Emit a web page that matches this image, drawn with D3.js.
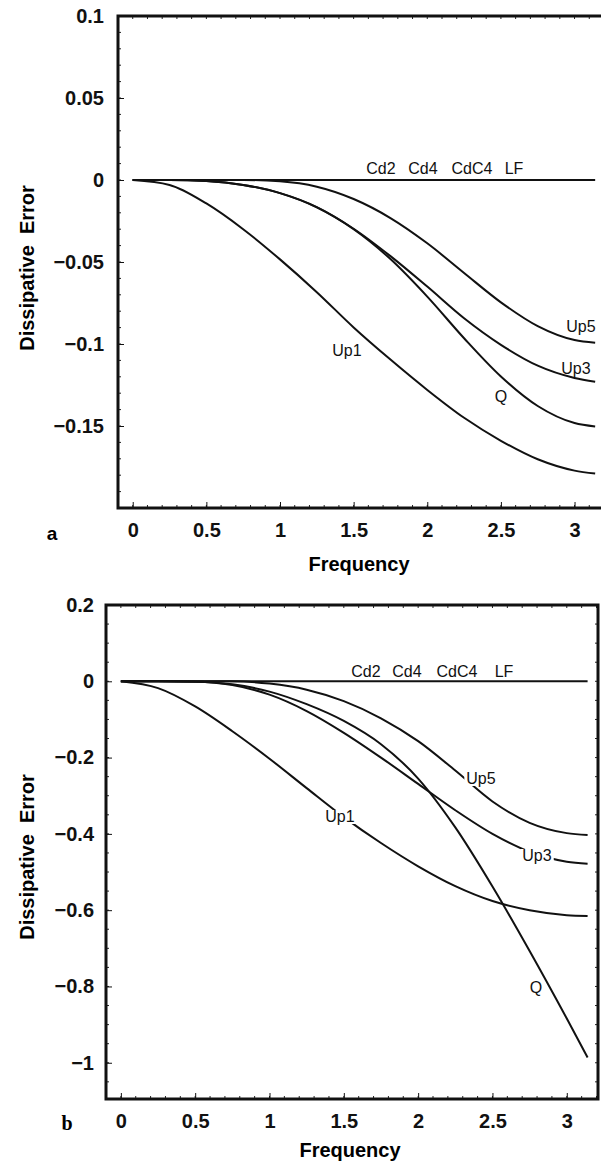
<!DOCTYPE html>
<meta charset="utf-8">
<style>
body { margin: 0; background: #fff; }
svg { font-family: 'Liberation Sans', Arial, sans-serif; }
.tick text { font-weight: bold; font-size: 20px; fill: #111; }
.tick line { stroke: #111; }
.curve { fill: none; stroke: #111; stroke-width: 2; }
.lab { font-size: 16px; fill: #111; }
</style>
<body>
<script src="https://d3js.org/d3.v7.min.js"></script>
<script>

// frequency grid
var freq = [0, 0.25, 0.5, 0.75, 1, 1.25, 1.5, 1.75, 2, 2.25, 2.5, 2.75, 3, 3.14];

// panel a
var aFlat = [0, 0, 0, 0, 0, 0, 0, 0, 0, 0, 0, 0, 0, 0];
var aUp1 = [0, -0.003, -0.0143, -0.030, -0.0484, -0.0684, -0.0899, -0.1095, -0.128, -0.145, -0.159, -0.1703, -0.1772, -0.179];
var aUp3 = [0, 0, -0.0006, -0.003, -0.008, -0.0165, -0.0297, -0.0464, -0.065, -0.0843, -0.1005, -0.1132, -0.1207, -0.123];
var aUp5 = [0, 0, 0, 0, -0.0008, -0.0041, -0.0116, -0.0232, -0.0386, -0.0567, -0.0746, -0.0891, -0.0976, -0.0992];
var aQ   = [0, 0, -0.0006, -0.003, -0.008, -0.0167, -0.030, -0.0482, -0.0711, -0.0965, -0.1198, -0.1378, -0.1482, -0.1503];

// panel b
var bFlat = [0, 0, 0, 0, 0, 0, 0, 0, 0, 0, 0, 0, 0, 0];
var bUp1 = [0, -0.018, -0.066, -0.131, -0.203, -0.280, -0.356, -0.424, -0.485, -0.537, -0.576, -0.600, -0.613, -0.615];
var bUp3 = [0, 0, -0.001, -0.010, -0.035, -0.078, -0.135, -0.200, -0.269, -0.338, -0.400, -0.447, -0.473, -0.478];
var bUp5 = [0, 0, 0, 0, -0.006, -0.022, -0.052, -0.097, -0.157, -0.234, -0.315, -0.371, -0.398, -0.403];
var bQ   = [0, 0, -0.001, -0.008, -0.027, -0.060, -0.104, -0.165, -0.255, -0.383, -0.538, -0.707, -0.884, -0.986];

var xTicks = [0, 0.5, 1, 1.5, 2, 2.5, 3];
var aYTicks = [0.1, 0.05, 0, -0.05, -0.1, -0.15];
var bYTicks = [0.2, 0, -0.2, -0.4, -0.6, -0.8, -1];

function fmt(d) {
  var s = String(Math.abs(+d.toFixed(3)));
  return d < 0 ? "\u2212" + s : s;
}

var svg = d3.select("body").append("svg")
    .attr("width", 601)
    .attr("height", 1172);

function panel(p) {
  var x = d3.scaleLinear().domain(p.xd).range([p.l, p.r]);
  var y = d3.scaleLinear().domain(p.yd).range([p.b, p.t]);
  var g = svg.append("g");

  // minor ticks
  var xm = d3.range(0, 3.21, 0.1);
  var ym = d3.range(p.yd[0], p.yd[1] + 1e-9, p.ymin).map(function(v){ return Math.round(v/p.ymin)*p.ymin; })
      .filter(function(v){ return v >= p.yd[0] - 1e-9 && v <= p.yd[1] + 1e-9; });
  g.selectAll(".mx").data(xm).enter().append("line")
      .attr("x1", d => x(d)).attr("x2", d => x(d))
      .attr("y1", p.b).attr("y2", p.b - 3).attr("stroke", "#222");
  g.selectAll(".mxt").data(xm).enter().append("line")
      .attr("x1", d => x(d)).attr("x2", d => x(d))
      .attr("y1", p.t).attr("y2", p.t + 3).attr("stroke", "#222");
  g.selectAll(".my").data(ym).enter().append("line")
      .attr("x1", p.l).attr("x2", p.l + 3)
      .attr("y1", d => y(d)).attr("y2", d => y(d)).attr("stroke", "#222");
  g.selectAll(".myr").data(ym).enter().append("line")
      .attr("x1", p.r).attr("x2", p.r - 3)
      .attr("y1", d => y(d)).attr("y2", d => y(d)).attr("stroke", "#222");

  // axes
  var xa = g.append("g").attr("transform", "translate(0," + p.b + ")")
      .call(d3.axisBottom(x).tickValues(xTicks).tickFormat(fmt).tickSizeInner(-6).tickSizeOuter(0).tickPadding(15));
  var ya = g.append("g").attr("transform", "translate(" + p.l + ",0)")
      .call(d3.axisLeft(y).tickValues(p.yt).tickFormat(fmt).tickSizeInner(-6).tickSizeOuter(0).tickPadding(p.ypad));
  xa.select(".domain").remove();
  ya.select(".domain").remove();

  // frame
  g.append("rect")
      .attr("x", p.l).attr("y", p.t)
      .attr("width", p.r - p.l).attr("height", p.b - p.t)
      .attr("fill", "none").attr("stroke", "#111").attr("stroke-width", 3);

  var line = d3.line()
      .curve(d3.curveMonotoneX)
      .x((d, i) => x(freq[i]))
      .y(d => y(d));

  p.series.forEach(function(s) {
    g.append("path").datum(s.v)
        .attr("class", "curve")
        .attr("stroke-width", s.w || 2)
        .attr("d", line);
  });

  // curve labels
  p.labels.forEach(function(l) {
    var t = g.append("text").attr("class", "lab")
        .attr("x", l.x).attr("y", l.y)
        .attr("text-anchor", "middle")
        .text(l.t);
    if (l.bg) {
      var bb = t.node().getBBox();
      g.insert("rect", function(){ return t.node(); })
          .attr("x", bb.x - 2).attr("y", bb.y + 2)
          .attr("width", bb.width + 4).attr("height", bb.height - 3)
          .attr("fill", "#fff");
    }
  });

  // axis titles
  g.append("text")
      .attr("transform", "translate(" + p.yl[0] + "," + p.yl[1] + ") rotate(-90)")
      .attr("text-anchor", "middle")
      .style("font-weight", "bold").style("font-size", "20px")
      .attr("xml:space", "preserve")
      .text("Dissipative  Error");
  g.append("text")
      .attr("x", p.xl[0]).attr("y", p.xl[1])
      .attr("text-anchor", "middle")
      .style("font-weight", "bold").style("font-size", "20px")
      .text("Frequency");
  g.append("text")
      .attr("x", p.tag[0]).attr("y", p.tag[1])
      .attr("text-anchor", "middle")
      .style("font-weight", "bold").style("font-size", p.tagSize)
      .style("font-family", p.tagFont)
      .text(p.tagText);
}

panel({
  xd: [-0.1, 3.2], yd: [-0.2, 0.1],
  l: 118, r: 604, t: 16, b: 508,
  yt: aYTicks, ymin: 0.01, ypad: 14,
  series: [{v: aFlat, w: 2}, {v: aUp1}, {v: aUp3}, {v: aUp5}, {v: aQ}],
  labels: [
    {t: "Cd2", x: 381, y: 174}, {t: "Cd4", x: 423, y: 174},
    {t: "CdC4", x: 472, y: 174}, {t: "LF", x: 514, y: 174},
    {t: "Up5", x: 581, y: 332}, {t: "Up3", x: 576, y: 374},
    {t: "Up1", x: 347, y: 356}, {t: "Q", x: 501, y: 402}
  ],
  yl: [34, 268], xl: [359, 571],
  tag: [52, 540], tagText: "a", tagSize: "19px", tagFont: "'Liberation Sans', Arial, sans-serif"
});

panel({
  xd: [-0.1, 3.21], yd: [-1.095, 0.2],
  l: 106, r: 598, t: 605, b: 1099,
  yt: bYTicks, ymin: 0.05, ypad: 12,
  series: [{v: bFlat, w: 1.6}, {v: bUp1}, {v: bUp3}, {v: bUp5}, {v: bQ}],
  labels: [
    {t: "Cd2", x: 366, y: 677}, {t: "Cd4", x: 407, y: 677},
    {t: "CdC4", x: 457, y: 677}, {t: "LF", x: 504, y: 677},
    {t: "Up5", x: 481, y: 784, bg: true}, {t: "Up3", x: 537, y: 861, bg: true},
    {t: "Up1", x: 340, y: 822, bg: true}, {t: "Q", x: 536, y: 993}
  ],
  yl: [34, 857], xl: [350, 1157],
  tag: [67, 1130], tagText: "b", tagSize: "20px", tagFont: "'Liberation Serif', 'Times New Roman', serif"
});

</script>
</body>
